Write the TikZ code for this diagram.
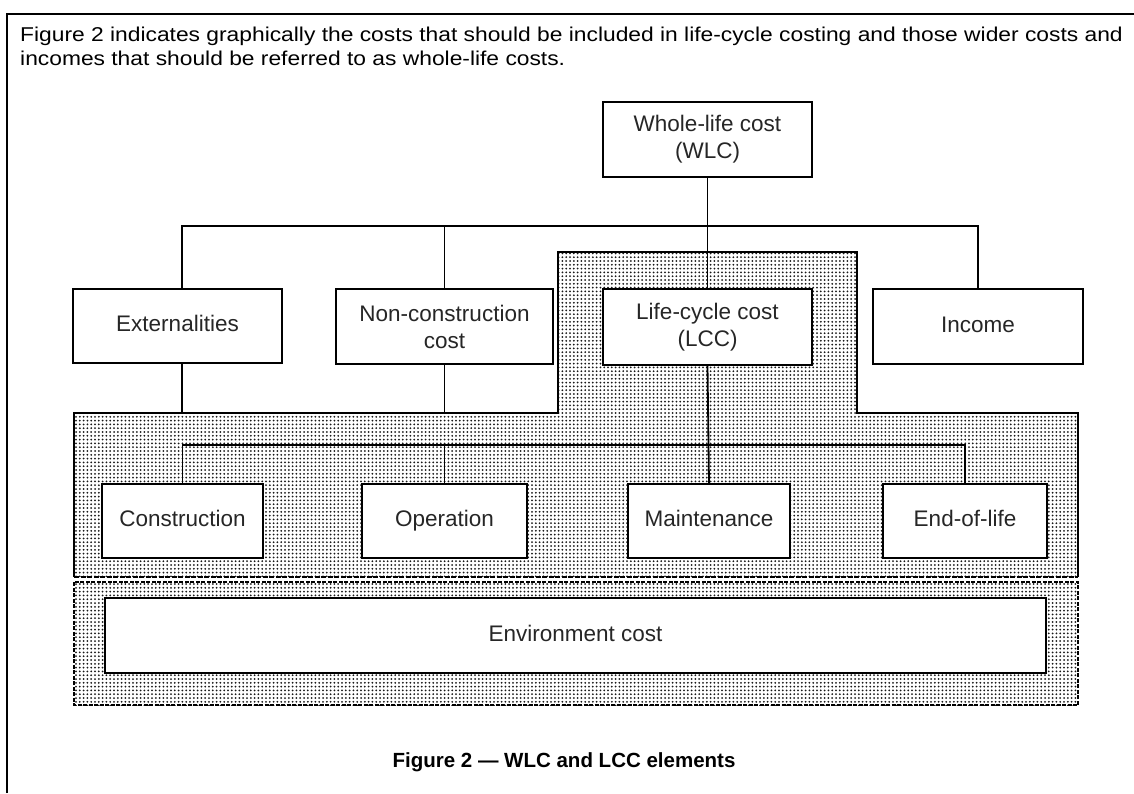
\documentclass[tikz,border=0pt]{standalone}
\usepackage{fontspec}
\setmainfont{Liberation Sans}
\usepackage{tikz}
\usetikzlibrary{positioning,patterns.meta,calc}

\tikzset{
  costbox/.style={draw, rectangle, line width=1.7pt, fill=white, align=center,
    text=black!85, font=\fontsize{22.5}{27}\selectfont},
  onerow/.style={text height=16pt, text depth=4.5pt},
  link/.style={line width=1.8pt},
  dotzone/.style={pattern={Dots[distance=3.8pt, radius=1pt]}, pattern color=black!90}
}

\begin{document}
\begin{tikzpicture}[x=1pt, y=-1pt]
\useasboundingbox (0,0) rectangle (1134,793);

% Page frame and text
\draw[line width=1.4pt] (7,793) -- (7,14) -- (1134,14);
\node[anchor=north west, inner sep=0pt, font=\fontsize{20}{24}\selectfont] (intro) at (20,24.5)
  {\scalebox{1.14}[1]{\begin{tabular}{@{}l@{}}
   Figure 2 indicates graphically the costs that should be included in life-cycle costing and those wider costs and\\
   incomes that should be referred to as whole-life costs.\end{tabular}}};

% Shaded areas
\fill[dotzone] (74,577) -- (74,413) -- (558,413) -- (558,252) -- (857,252) -- (857,413) -- (1078,413) -- (1078,577) -- cycle;
\fill[dotzone] (74,582) rectangle (1078,705);
\draw[line width=1.4pt, dash pattern=on 4pt off 1.5pt] (74,582) rectangle (1078,705);
\draw[line width=2.8pt] (74,577) -- (74,413) -- (558,413) -- (558,252) -- (857,252) -- (857,413) -- (1078,413) -- (1078,577);
\draw[line width=2.4pt, dash pattern=on 5pt off 1.5pt] (74,577) -- (1078,577);

% Top level
\node[costbox, minimum width=209pt, minimum height=75pt] (wlc) at (707.5,139.5) {Whole-life cost\\(WLC)};

% Second level
\node[costbox, onerow, minimum width=209pt, minimum height=74pt] (ext) at (177.5,326) {Externalities};
\node[costbox, minimum width=217pt, minimum height=75pt] (ncc) at (444.5,326.5) {Non-construction\\cost};
\node[costbox, minimum width=209pt, minimum height=76pt] (lcc) at (707.5,327) {Life-cycle cost\\(LCC)};
\node[costbox, onerow, minimum width=210pt, minimum height=75pt] (inc) at (978,326.5) {Income};

% Third level
\node[costbox, onerow, minimum width=161pt, minimum height=74pt] (con) at (182.5,521) {Construction};
\node[costbox, onerow, minimum width=165pt, minimum height=74pt] (opr) at (444.5,521) {Operation};
\node[costbox, onerow, minimum width=162pt, minimum height=74pt] (mnt) at (709,521) {Maintenance};
\node[costbox, onerow, minimum width=164pt, minimum height=74pt] (eol) at (965,521) {End-of-life};

% Environment
\node[costbox, onerow, minimum width=941pt, minimum height=75pt] (env) at (575.5,635.5) {Environment cost};

% Bars
\coordinate (topbar) at (0,226);
\coordinate (zonetop) at (0,413);
\coordinate (lowbar) at (0,445);

% Lines
\draw[link] (wlc.south) -- (lcc.north);
\draw[link] ([xshift=4.5pt]ext.north) -- ([xshift=4.5pt]ext.north |- topbar) -| (inc.north);
\draw[link] (ncc.north) -- (ncc.north |- topbar);
\draw[link] ([xshift=4.5pt]ext.south) -- ([xshift=4.5pt]ext.south |- zonetop);
\draw[link] (ncc.south) -- (ncc.south |- zonetop);
\draw[link] (lcc.south) -- (mnt.north);
\draw[link] (con.north) -- (con.north |- lowbar) -| (eol.north);
\draw[link] (opr.north) -- (opr.north |- lowbar);

% Caption
\node[font=\bfseries\fontsize{20.5}{24}\selectfont] (caption) at (564,762) {Figure 2 --- WLC and LCC elements};

\end{tikzpicture}
\end{document}
